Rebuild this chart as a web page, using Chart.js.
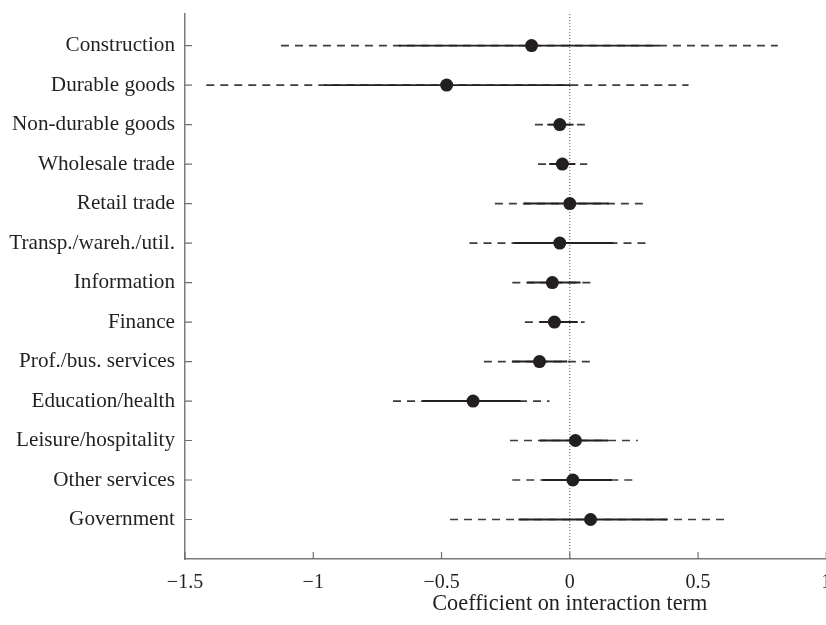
<!DOCTYPE html>
<html>
<head>
<meta charset="utf-8">
<script src="https://cdn.jsdelivr.net/npm/chart.js@4.4.1/dist/chart.umd.min.js"></script>
<style>
  html, body { margin: 0; padding: 0; background: #ffffff; overflow: hidden; }
  #wrap { width: 826px; height: 625px; overflow: hidden; position: relative; }
  canvas { display: block; }
</style>
</head>
<body>
<div id="wrap"><canvas id="chart" width="840" height="625"></canvas></div>
<script>
// Industries, top to bottom
const categories = [
  "Construction", "Durable goods", "Non-durable goods", "Wholesale trade",
  "Retail trade", "Transp./wareh./util.", "Information", "Finance",
  "Prof./bus. services", "Education/health", "Leisure/hospitality",
  "Other services", "Government"
];

// Point estimates of the interaction coefficient
const estimates = [-0.149, -0.480, -0.039, -0.029, 0.000, -0.039, -0.068, -0.060, -0.118, -0.377, 0.022, 0.012, 0.081];

// Inner interval (solid segment)
const innerLow  = [-0.667, -0.958, -0.088, -0.080, -0.179, -0.218, -0.166, -0.117, -0.224, -0.574, -0.117, -0.107, -0.200];
const innerHigh = [ 0.349,  0.003,  0.015,  0.022,  0.152,  0.170,  0.042,  0.031, -0.010, -0.192,  0.149,  0.165,  0.379];

// Outer interval (dashed segment)
const outerLow  = [-1.126, -1.417, -0.136, -0.124, -0.292, -0.391, -0.224, -0.175, -0.335, -0.689, -0.233, -0.224, -0.467];
const outerHigh = [ 0.811,  0.463,  0.060,  0.068,  0.292,  0.314,  0.087,  0.058,  0.097, -0.079,  0.265,  0.245,  0.624];

// Axis ticks and title
const xTicks = [-1.5, -1, -0.5, 0, 0.5, 1];
const xTitle = "Coefficient on interaction term";

const serif = "'Liberation Serif', 'Times New Roman', serif";
const ink = "#231f20";

function fmt(v) {
  const s = String(Math.abs(v));
  return v < 0 ? "\u2212" + s : s;
}

const datasets = [];

// zero reference line
datasets.push({
  type: "line",
  data: [{ x: 0, y: 0.2 }, { x: 0, y: 14 }],
  borderColor: "#555555",
  borderWidth: 1,
  borderDash: [1, 2],
  pointRadius: 0,
  order: 4
});

categories.forEach((c, i) => {
  datasets.push({
    type: "line",
    data: [{ x: outerLow[i], y: i + 1 }, { x: outerHigh[i], y: i + 1 }],
    borderColor: "#3c3c3c",
    borderWidth: 1.7,
    borderDash: [8, 6],
    pointRadius: 0,
    order: 3
  });
  datasets.push({
    type: "line",
    data: [{ x: innerLow[i], y: i + 1 }, { x: innerHigh[i], y: i + 1 }],
    borderColor: "#222222",
    borderWidth: 1.9,
    pointRadius: 0,
    order: 2
  });
});

datasets.push({
  type: "scatter",
  data: estimates.map((v, i) => ({ x: v, y: i + 1 })),
  backgroundColor: ink,
  borderWidth: 0,
  pointRadius: 6.5,
  pointHoverRadius: 6.5,
  order: 1
});

// Inward tick marks and the axis caption
const decorations = {
  id: "decorations",
  afterDraw(chart) {
    const ctx = chart.ctx;
    const xs = chart.scales.x, ys = chart.scales.y;
    ctx.save();
    ctx.strokeStyle = "#6e6e6e";
    ctx.lineWidth = 1.2;
    ctx.beginPath();
    ys.ticks.forEach(t => {
      const y = ys.getPixelForValue(t.value);
      ctx.moveTo(ys.right, y);
      ctx.lineTo(ys.right + 7, y);
    });
    xs.ticks.forEach(t => {
      const x = xs.getPixelForValue(t.value);
      ctx.moveTo(x, xs.top);
      ctx.lineTo(x, xs.top - 7);
    });
    ctx.stroke();
    ctx.fillStyle = ink;
    ctx.font = "22.3px " + serif;
    ctx.textAlign = "center";
    ctx.textBaseline = "middle";
    ctx.fillText(xTitle, xs.getPixelForValue(0), 604);
    ctx.restore();
  }
};

new Chart(document.getElementById("chart"), {
  data: { datasets },
  plugins: [decorations],
  options: {
    responsive: false,
    animation: false,
    devicePixelRatio: 1,
    events: [],
    layout: { padding: { top: 14, right: 13.7, bottom: 0, left: 0 } },
    plugins: { legend: { display: false }, tooltip: { enabled: false } },
    scales: {
      x: {
        type: "linear",
        min: -1.5,
        max: 1,
        afterBuildTicks: s => { s.ticks = xTicks.map(v => ({ value: v })); },
        afterFit: s => { s.height = 66; s.paddingLeft = 0; s.paddingRight = 0; },
        grid: { display: false, drawTicks: false },
        border: { display: true, color: "#7a7a7a", width: 1.5 },
        ticks: {
          color: ink,
          font: { family: serif, size: 20 },
          padding: 12,
          maxRotation: 0,
          autoSkip: false,
          callback: v => fmt(v)
        }
      },
      y: {
        type: "linear",
        reverse: true,
        min: 0.2,
        max: 14,
        afterBuildTicks: s => { s.ticks = categories.map((_, i) => ({ value: i + 1 })); },
        afterFit: s => { s.width = 185; s.paddingTop = 0; s.paddingBottom = 0; },
        grid: { display: false, drawTicks: false },
        border: { display: true, color: "#7a7a7a", width: 1.5 },
        ticks: {
          color: ink,
          font: { family: serif, size: 21.2 },
          padding: 10,
          autoSkip: false,
          callback: v => categories[v - 1]
        }
      }
    }
  }
});
</script>
</body>
</html>
